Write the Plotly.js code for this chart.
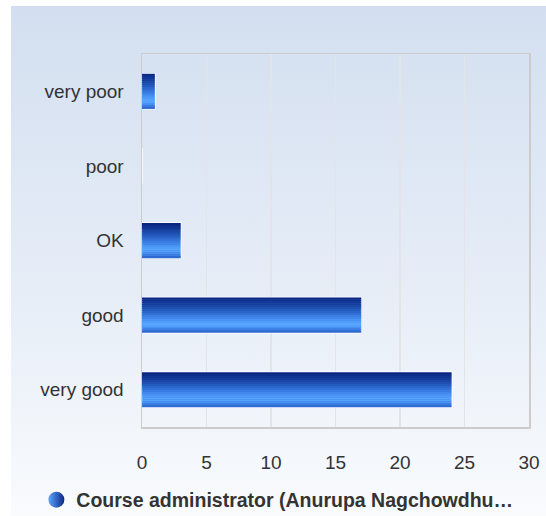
<!DOCTYPE html>
<html>
<head>
<meta charset="utf-8">
<script src="https://cdn.plot.ly/plotly-3.0.1.min.js"></script>
<style>
html,body{margin:0;padding:0;background:#ffffff;}
#bg{position:absolute;left:11px;top:6px;width:535px;height:510px;background:linear-gradient(to bottom,#d3dff0 0%,#e6edf7 55%,#f9fbfd 100%);}
#chart{position:absolute;left:0;top:0;width:546px;height:516px;}
</style>
</head>
<body>
<div id="bg"></div>
<div id="chart"></div>
<script>
const categories = ["very poor", "poor", "OK", "good", "very good"];
const values = [1, 0, 3, 17, 24];
const seriesName = "Course administrator (Anurupa Nagchowdhu…";
const xTicks = [0, 5, 10, 15, 20, 25, 30];

// vertical gradient of bars (top to bottom)
const stripeColors = ["#0a2682","#0d2d8a","#113592","#153d9a","#1a46a5","#1f50b1","#255abd","#2b65c9","#3270d6","#397ce2","#4188ec","#4993f4","#519dfb","#58a5ff","#55a1fd","#4a92f3","#3b7ee2","#2e6ad0"];
const barWidth = 0.47;
const n = stripeColors.length;

const traces = [];
// base bar with white outline
traces.push({
  type: "bar", orientation: "h", y: categories, x: values,
  width: barWidth, marker: {color: "#2a66cc", line: {color: "#ffffff", width: 1.5}},
  showlegend: false, hoverinfo: "skip"
});
stripeColors.forEach((c, i) => {
  traces.push({
    type: "bar", orientation: "h", y: categories, x: values,
    width: barWidth / n * 1.05, offset: -barWidth / 2 + i * barWidth / n,
    marker: {color: c, line: {width: 0}},
    showlegend: false, hoverinfo: "skip"
  });
});
// legend entry
traces.push({
  type: "scatter", mode: "markers", x: [null], y: [null], name: seriesName,
  marker: {symbol: "circle", size: 18, color: "#5aa6ff", gradient: {type: "horizontal", color: "#0b2884"}},
  showlegend: true
});

const layout = {
  width: 546, height: 516,
  paper_bgcolor: "rgba(0,0,0,0)", plot_bgcolor: "rgba(0,0,0,0)",
  margin: {l: 142, r: 17, t: 54, b: 89, autoexpand: false},
  barmode: "overlay",
  font: {family: "Liberation Sans, Arial, sans-serif", color: "#333333", size: 18},
  xaxis: {
    range: [0, 30], tickvals: xTicks, ticktext: xTicks.map(String),
    showgrid: true, gridcolor: "#e2e4e8", gridwidth: 1.5, zeroline: false,
    showline: true, linecolor: "#cccccc", linewidth: 1.5, mirror: true,
    ticks: "outside", ticklen: 18, tickcolor: "rgba(0,0,0,0)",
    tickfont: {size: 19, color: "#333333"}, fixedrange: true
  },
  yaxis: {
    type: "category", categoryorder: "array", categoryarray: categories,
    autorange: "reversed", showgrid: false, zeroline: false,
    showline: true, linecolor: "#cccccc", linewidth: 1.5, mirror: true,
    ticks: "outside", ticklen: 13, tickcolor: "rgba(0,0,0,0)",
    tickfont: {size: 19, color: "#333333"}, fixedrange: true
  },
  showlegend: true,
  legend: {
    orientation: "h", xref: "container", yref: "container",
    x: 0.508, xanchor: "center", y: 0.031, yanchor: "middle",
    font: {size: 19.5, color: "#333333", weight: "bold"},
    bgcolor: "rgba(0,0,0,0)", itemwidth: 30
  }
};

Plotly.newPlot("chart", traces, layout, {displayModeBar: false, staticPlot: true});
</script>
</body>
</html>
